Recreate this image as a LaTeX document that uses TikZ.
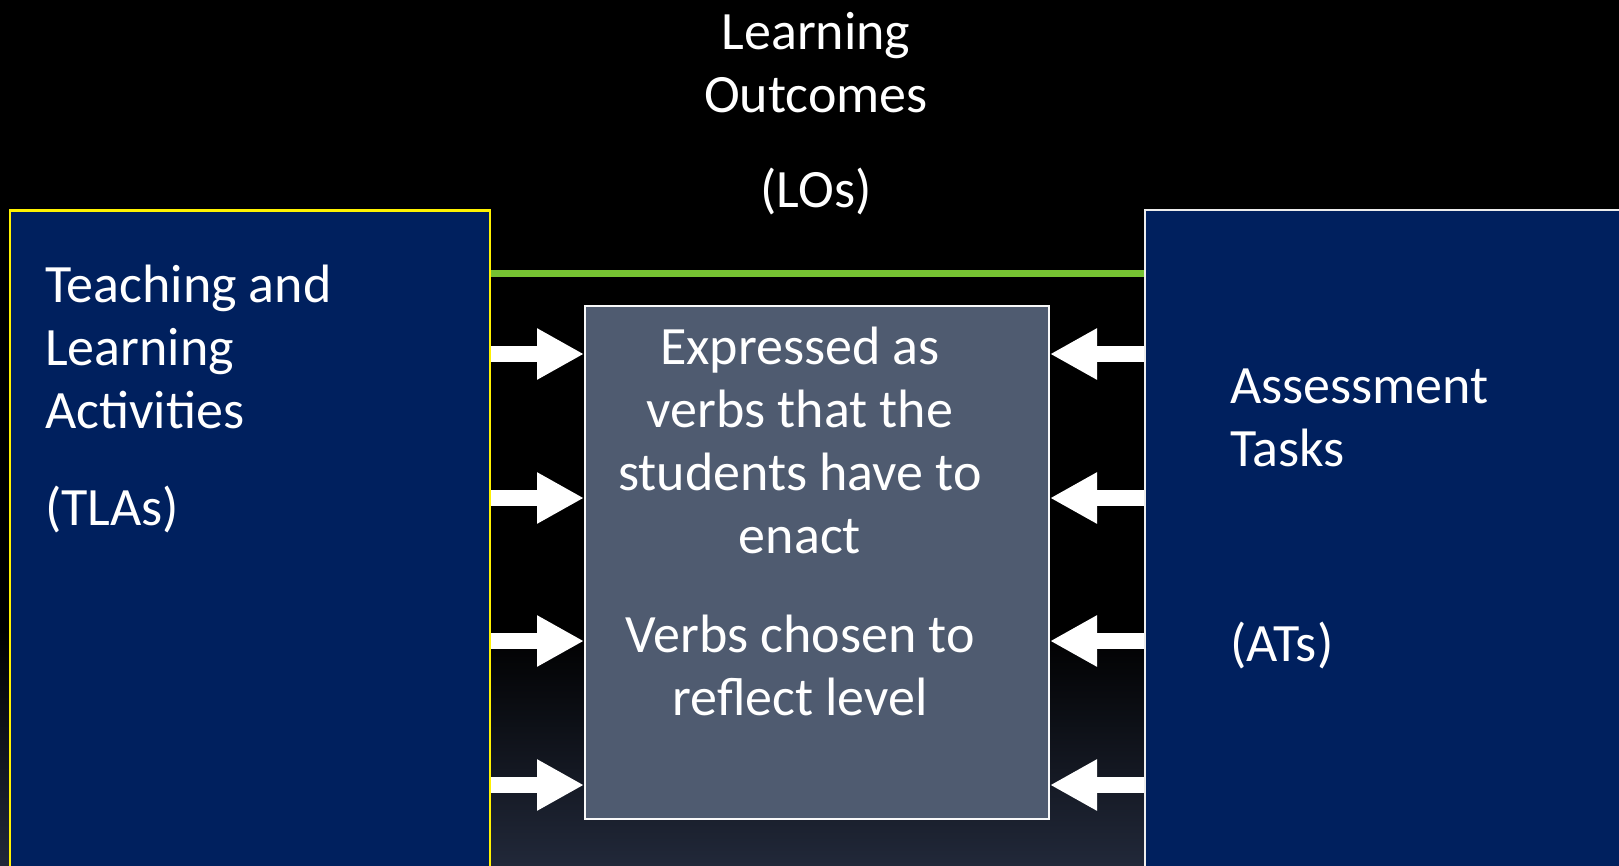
\documentclass[tikz,border=0pt]{standalone}
\usepackage{fontspec}
\setmainfont{Carlito}
\usetikzlibrary{arrows.meta}

\definecolor{navybox}{RGB}{0,32,94}
\definecolor{slatebox}{RGB}{79,91,112}
\definecolor{alignline}{RGB}{118,194,50}
\definecolor{floorblue}{RGB}{33,40,57}

\begin{document}
\begin{tikzpicture}[x=1pt, y=-1pt]

\tikzset{
    panel/.style={anchor=north west, inner sep=0, minimum width=#1},
    words/.style={text=white, inner sep=0, font=\fontsize{54}{63}\selectfont},
    blockarrow/.style={white, line width=16pt, -{Triangle[length=47pt, width=48pt]}}
}
\useasboundingbox (0,0) rectangle (1619,865);
\clip (0,0) rectangle (1619,865);
\fill[black] (0,0) rectangle (1619,865);
\shade[top color=black, bottom color=floorblue] (0,630) rectangle (1619,865);

\node[panel=480pt, minimum height=700pt, fill=navybox, draw=yellow, line width=2.5pt] (tla) at (8.5,209) {};
\node[panel=520pt, minimum height=700pt, fill=navybox, draw=white!85!gray, line width=2pt] (at) at (1144,209) {};
\node[panel=464pt, minimum height=513pt, fill=slatebox, draw=white!95!gray, line width=2pt] (lo) at (584,305) {};

\coordinate (gl) at (0,273);
\draw[alignline, line width=7pt] (tla.east |- gl) -- (at.west |- gl);

\foreach \y in {354,498,641,785}{
    \coordinate (row) at (0,\y);
    \draw[blockarrow] (tla.east |- row) -- (lo.west |- row);
    \draw[blockarrow] (at.west |- row) -- (lo.east |- row);
}

% anchor=base sits on the last line
\node[words, align=center, anchor=base] (lotitle) at (816,207) {Learning\\Outcomes\\[32pt](LOs)};
\node[words, align=left, anchor=base west] (tlatext) at (45,525) {Teaching and\\Learning\\Activities\\[34pt](TLAs)};
\node[words, align=center, anchor=base] (lotext) at (800,715) {Expressed as\\verbs that the\\students have to\\enact\\[36pt]Verbs chosen to\\reflect level};
\node[words, align=left, anchor=base west] (attext) at (1230,661) {Assessment\\Tasks\\[132pt](ATs)};

\end{tikzpicture}
\end{document}
